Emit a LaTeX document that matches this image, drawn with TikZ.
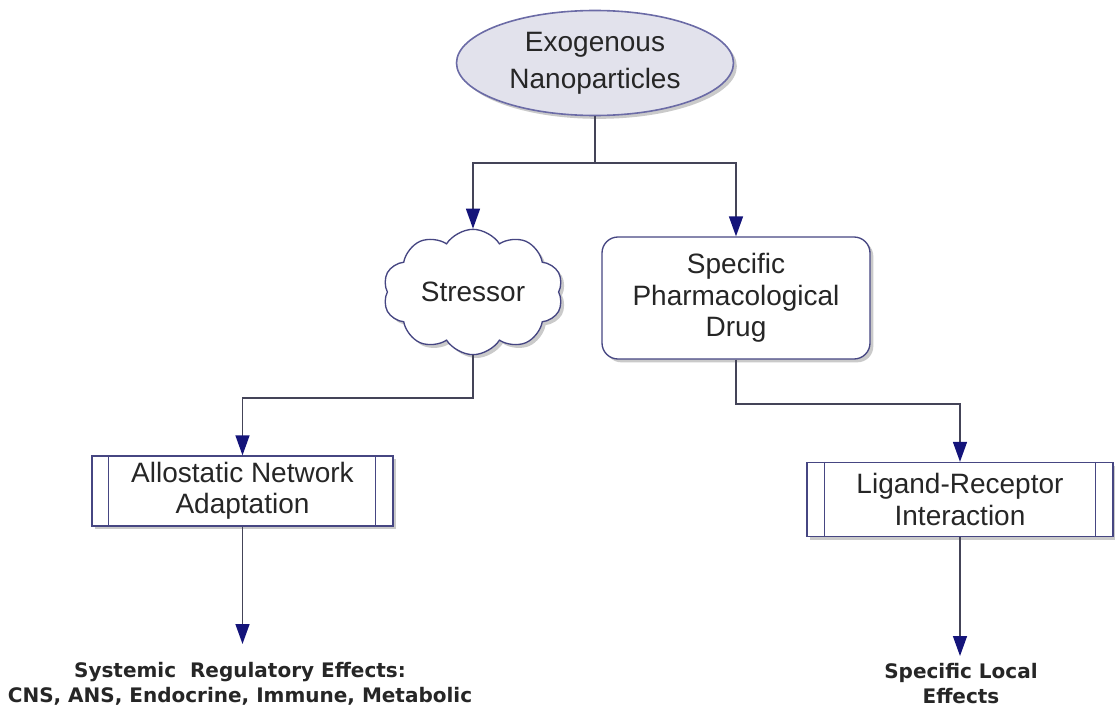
\documentclass[tikz,border=0pt]{standalone}
\usepackage{fontspec}
\setmainfont{Liberation Sans}
\newfontfamily\efffont{DejaVu Sans}
\usepackage{tikz}
\usetikzlibrary{arrows.meta,shapes.geometric,shapes.symbols,shadows}

\definecolor{ovalfill}{RGB}{226,226,236}
\definecolor{ovaldraw}{RGB}{107,107,166}
\definecolor{boxdraw}{RGB}{70,70,130}
\definecolor{linkgray}{RGB}{68,68,88}
\definecolor{tipblue}{RGB}{20,20,122}

\tikzset{
  txt/.style={font=\fontsize{21}{23.5}\selectfont, align=center, text=black!85},
  shade/.style={drop shadow={shadow xshift=2.5pt, shadow yshift=-2.5pt, opacity=0.35, fill=black!60}},
  oval/.style={ellipse, draw=ovaldraw, line width=1.2pt, fill=ovalfill, txt, shade,
    font=\fontsize{21}{27.5}\selectfont, minimum width=207.75pt, minimum height=78.75pt, inner sep=0pt},
  puff/.style={cloud, cloud puffs=10, cloud puff arc=115, aspect=1.45, draw=boxdraw, line width=1pt,
    fill=white, txt, shade, minimum width=135pt, minimum height=94pt, inner sep=0pt},
  roundbox/.style={rectangle, rounded corners=12pt, draw=boxdraw, line width=1pt, fill=white, txt, shade,
    minimum width=201pt, minimum height=91.5pt, inner sep=0pt},
  procbox/.style={rectangle, draw=boxdraw, line width=1pt, fill=white, txt, shade, inner sep=0pt},
  frame/.style={draw=boxdraw, line width=1pt},
  link/.style={draw=linkgray, line width=1.1pt},
  flow/.style={link, -{Triangle[length=15pt,width=10.5pt,color=tipblue,fill=tipblue]}},
  effect/.style={font=\efffont\bfseries\fontsize{15}{18.75}\selectfont, align=center, text=black!85, inner sep=0pt}
}

\begin{document}
\begin{tikzpicture}[x=0.75pt,y=0.75pt,yscale=-1,xscale=1]
\useasboundingbox (0,0) rectangle (1115,717);

%Shape: Ellipse
\node[oval] (nano) at (595,63) {Exogenous\\Nanoparticles};
%Shape: Cloud
\node[puff] (stress) at (473,292) {Stressor};
%Shape: Rounded Rect
\node[roundbox] (drug) at (736,298) {Specific\\Pharmacological\\Drug};
%Shape: Process
\node[procbox, minimum width=225.75pt, minimum height=52.5pt] (allo) at (242.5,491) {Allostatic Network\\Adaptation};
\draw[frame] ([xshift=12.75pt]allo.north west) -- ([xshift=12.75pt]allo.south west);
\draw[frame] ([xshift=-13.5pt]allo.north east) -- ([xshift=-13.5pt]allo.south east);
%Shape: Process
\node[procbox, minimum width=229.5pt, minimum height=55.5pt] (lig) at (960,499.5) {Ligand-Receptor\\Interaction};
\draw[frame] ([xshift=13.5pt]lig.north west) -- ([xshift=13.5pt]lig.south west);
\draw[frame] ([xshift=-13.5pt]lig.north east) -- ([xshift=-13.5pt]lig.south east);

% Text Node
\node[effect] (sys) at (240,684) {Systemic\ \ Regulatory Effects:\\CNS, ANS, Endocrine, Immune, Metabolic};
% Text Node
\node[effect] (local) at (961,684) {Specific Local\\Effects};

%Connectors
\coordinate (split) at (595,163);
\coordinate (lbend) at (473,398);
\coordinate (rbend) at (736,404);
\coordinate (sysend) at (242.5,644);
\coordinate (locend) at (960,656);
\draw[link] (nano.south) -- (split);
\draw[flow] (split) -| (stress.north);
\draw[flow] (split) -| (drug.north);
\draw[flow] (stress.south) -- (lbend) -| (allo.north);
\draw[flow] (drug.south) -- (rbend) -| (lig.north);
\draw[flow] (allo.south) -- (sysend);
\draw[flow] (lig.south) -- (locend);

\end{tikzpicture}
\end{document}
